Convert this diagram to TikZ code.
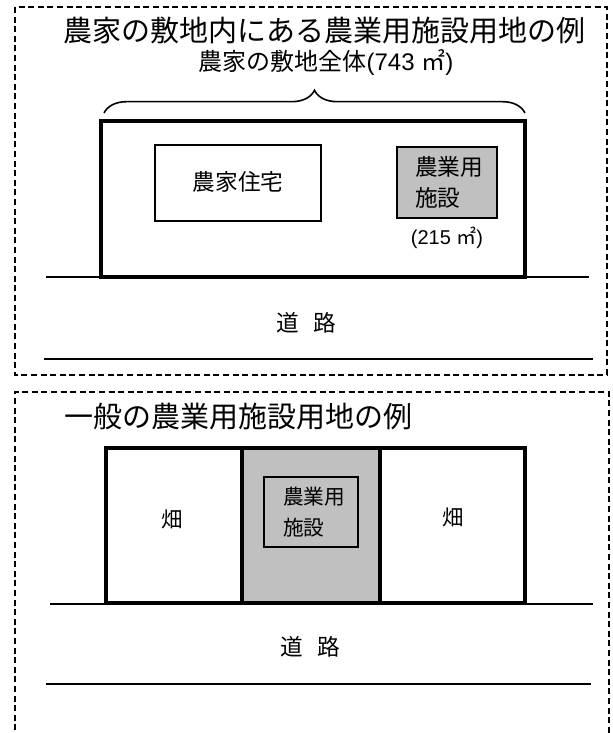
\documentclass[tikz,border=0pt]{standalone}
\usepackage{fontspec}
\setmainfont{Liberation Sans}
\newfontfamily\jpfont{Noto Sans CJK JP}
\usetikzlibrary{decorations.pathreplacing}
\definecolor{facility}{RGB}{192,192,192}

\begin{document}
\begin{tikzpicture}[x=0.75pt, y=-0.75pt,
  frame/.style={dash pattern=on 4.5pt off 2.7pt, line width=1.3pt},
  lot/.style={line width=3pt},
  road/.style={line width=1.4pt},
  bldg/.style={line width=1.1pt},
  label/.style={inner sep=0pt, font=\jpfont\fontsize{17pt}{20pt}\selectfont}]
  \useasboundingbox (0,0) rectangle (613,733);

  % Coordinates
  \coordinate (A) at (101,121);
  \coordinate (B) at (525,277);
  \coordinate (C) at (155,145);
  \coordinate (D) at (321,221);
  \coordinate (E) at (397,147);
  \coordinate (F) at (497,218);
  \coordinate (G) at (106,448);
  \coordinate (H) at (242,603);
  \coordinate (I) at (242,448);
  \coordinate (J) at (380,603);
  \coordinate (K) at (380,448);
  \coordinate (L) at (525,603);
  \coordinate (M) at (264,477);
  \coordinate (N) at (358,547);

  % Drawing
  \draw[frame] (15,7) rectangle (607,375);
  \draw[frame] (15,740) -- (15,392) -- (609,392) -- (609,740);

  \node[label, anchor=west, font=\jpfont\fontsize{21.75pt}{24pt}\selectfont] (title1) at (63,30) {農家の敷地内にある農業用施設用地の例};
  \node[inner sep=0pt, font=\fontsize{18pt}{20pt}\selectfont] (whole) at (326,63) {{\jpfont 農家の敷地全体}(743 {\jpfont ㎡})};
  \draw[line width=1.2pt, decorate, decoration={brace, amplitude=17pt}] (104,113) -- (525,113);

  \draw[lot] (A) rectangle (B);
  \draw[bldg] (C) rectangle (D);
  \draw[bldg, fill=facility] (E) rectangle (F);
  \node[label] (house) at (238,182) {農家住宅};
  \node[label, anchor=west] (fac1a) at (415,167) {農業用};
  \node[label, anchor=west] (fac1b) at (415,198) {施設};
  \node[inner sep=0pt, font=\fontsize{15pt}{18pt}\selectfont] (area1) at (447,238) {(215 {\jpfont ㎡})};

  \draw[road] (46,277) -- (589,277);
  \draw[road] (44,359) -- (593,359);
  \node[label] (road1) at (306,323) {道\hspace{11pt}路};

  \node[label, anchor=west, font=\jpfont\fontsize{21.75pt}{24pt}\selectfont] (title2) at (64,417) {一般の農業用施設用地の例};

  \fill[facility] (I) rectangle (J);
  \draw[lot] (G) rectangle (H);
  \draw[lot] (I) rectangle (J);
  \draw[lot] (K) rectangle (L);
  \draw[bldg] (M) rectangle (N);
  \node[label, anchor=west, font=\jpfont\fontsize{15.5pt}{18pt}\selectfont] (fac2a) at (283,497) {農業用};
  \node[label, anchor=west, font=\jpfont\fontsize{15.5pt}{18pt}\selectfont] (fac2b) at (283,528) {施設};
  \node[label, font=\jpfont\fontsize{16pt}{18pt}\selectfont] (field1) at (172,519) {畑};
  \node[label, font=\jpfont\fontsize{16pt}{18pt}\selectfont] (field2) at (453,517) {畑};

  \draw[road] (50,604) -- (593,604);
  \draw[road] (46,684) -- (591,684);
  \node[label] (road2) at (310,647) {道\hspace{11pt}路};
\end{tikzpicture}
\end{document}
